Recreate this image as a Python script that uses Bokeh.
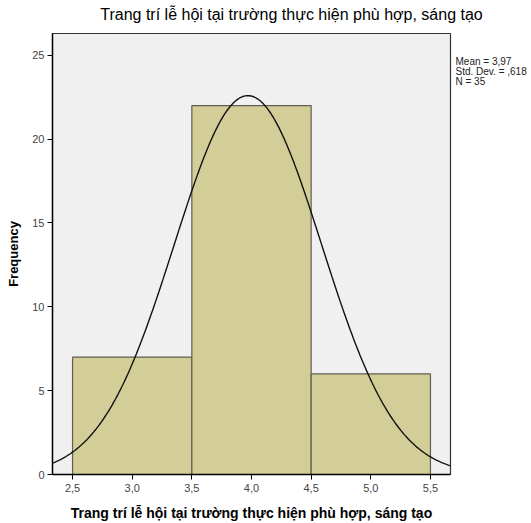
import numpy as np
from bokeh.plotting import figure
from bokeh.layouts import row, column
from bokeh.models import FixedTicker, CustomJSTickFormatter, Range1d
from bokeh.core.properties import value
from bokeh.embed import file_html
from bokeh.resources import INLINE

title_text = "Trang trí lễ hội tại trường thực hiện phù hợp, sáng tạo"
bin_left = [2.5, 3.5, 4.5]
bin_right = [3.5, 4.5, 5.5]
counts = [7, 22, 6]
mean_val = 3.97
sd_val = 0.618
n_val = 35
x_ticks = [2.5, 3.0, 3.5, 4.0, 4.5, 5.0, 5.5]
y_ticks = [0, 5, 10, 15, 20, 25]
stats_lines = ["Mean = 3,97", "Std. Dev. = ,618", "N = 35"]

FONT = "Liberation Sans"
TOP_H = 31

# title strip
t = figure(width=531, height=TOP_H, x_range=Range1d(0, 531), y_range=Range1d(TOP_H, 0),
           min_border=0, title=None, x_axis_type=None, y_axis_type=None,
           output_backend="svg", toolbar_location=None)
t.grid.visible = False
t.outline_line_color = None
t.background_fill_color = "white"
t.border_fill_color = "white"
t.text(x=[291], y=[14], text=[title_text], text_font=value(FONT), text_font_size="16px",
       text_color="black", text_align="center", text_baseline="middle")

# main histogram
p = figure(frame_width=398, frame_height=441, width=452, height=523 - TOP_H,
           min_border_left=52, min_border_right=2, min_border_top=2, min_border_bottom=49,
           x_range=Range1d(2.332, 5.668), y_range=Range1d(0, 26.3), title=None,
           output_backend="svg", toolbar_location=None)

p.background_fill_color = "#F0F0F0"
p.border_fill_color = "white"
p.outline_line_color = "#333333"
p.outline_line_width = 1.2
p.grid.visible = False

p.quad(left=bin_left, right=bin_right, bottom=0, top=counts,
       fill_color="#D3CE98", line_color="#5f5e50", line_width=1.2)

xs = np.linspace(2.332, 5.668, 300)
bw = bin_right[0] - bin_left[0]
ys = n_val * bw / (sd_val * np.sqrt(2 * np.pi)) * np.exp(-0.5 * ((xs - mean_val) / sd_val) ** 2)
p.line(xs, ys, line_color="#111111", line_width=1.4)

for ax in (p.xaxis[0], p.yaxis[0]):
    ax.axis_line_color = "black"
    ax.axis_line_width = 1.4
    ax.major_tick_line_color = "black"
    ax.major_tick_out = 5
    ax.major_tick_in = 0
    ax.minor_tick_line_color = None
    ax.major_label_text_font = FONT
    ax.major_label_text_font_size = "11px"
    ax.major_label_text_color = "#444444"
    ax.axis_label_text_font = FONT
    ax.axis_label_text_font_size = "14px"
    ax.axis_label_text_font_style = "bold"
    ax.axis_label_text_color = "black"

p.xaxis.ticker = FixedTicker(ticks=x_ticks)
p.yaxis.ticker = FixedTicker(ticks=y_ticks)
p.xaxis.formatter = CustomJSTickFormatter(code="return tick.toFixed(1).replace('.', ',');")
p.yaxis.formatter = CustomJSTickFormatter(code="return tick.toFixed(0);")
p.xaxis.axis_label = title_text
p.yaxis.axis_label = "Frequency"
p.yaxis.axis_label_text_font_size = "13px"
p.xaxis.major_label_standoff = 4
p.yaxis.major_label_standoff = 3
p.xaxis.axis_label_standoff = 10
p.yaxis.axis_label_standoff = 8

# side panel for the statistics text
SH = 523 - TOP_H
s = figure(width=79, height=SH, x_range=Range1d(0, 79), y_range=Range1d(SH, 0),
           min_border=0, title=None, x_axis_type=None, y_axis_type=None,
           output_backend="svg", toolbar_location=None)
s.grid.visible = False
s.outline_line_color = None
s.background_fill_color = "white"
s.border_fill_color = "white"
s.text(x=[3, 3, 3], y=[62 - TOP_H, 73 - TOP_H, 84 - TOP_H], text=stats_lines,
       text_font=value(FONT), text_font_size="10px", text_color="#222222",
       text_baseline="middle", text_align="left")

layout = column(t, row(p, s, spacing=0), spacing=0)
open("out.html", "w").write(file_html(layout, INLINE))
